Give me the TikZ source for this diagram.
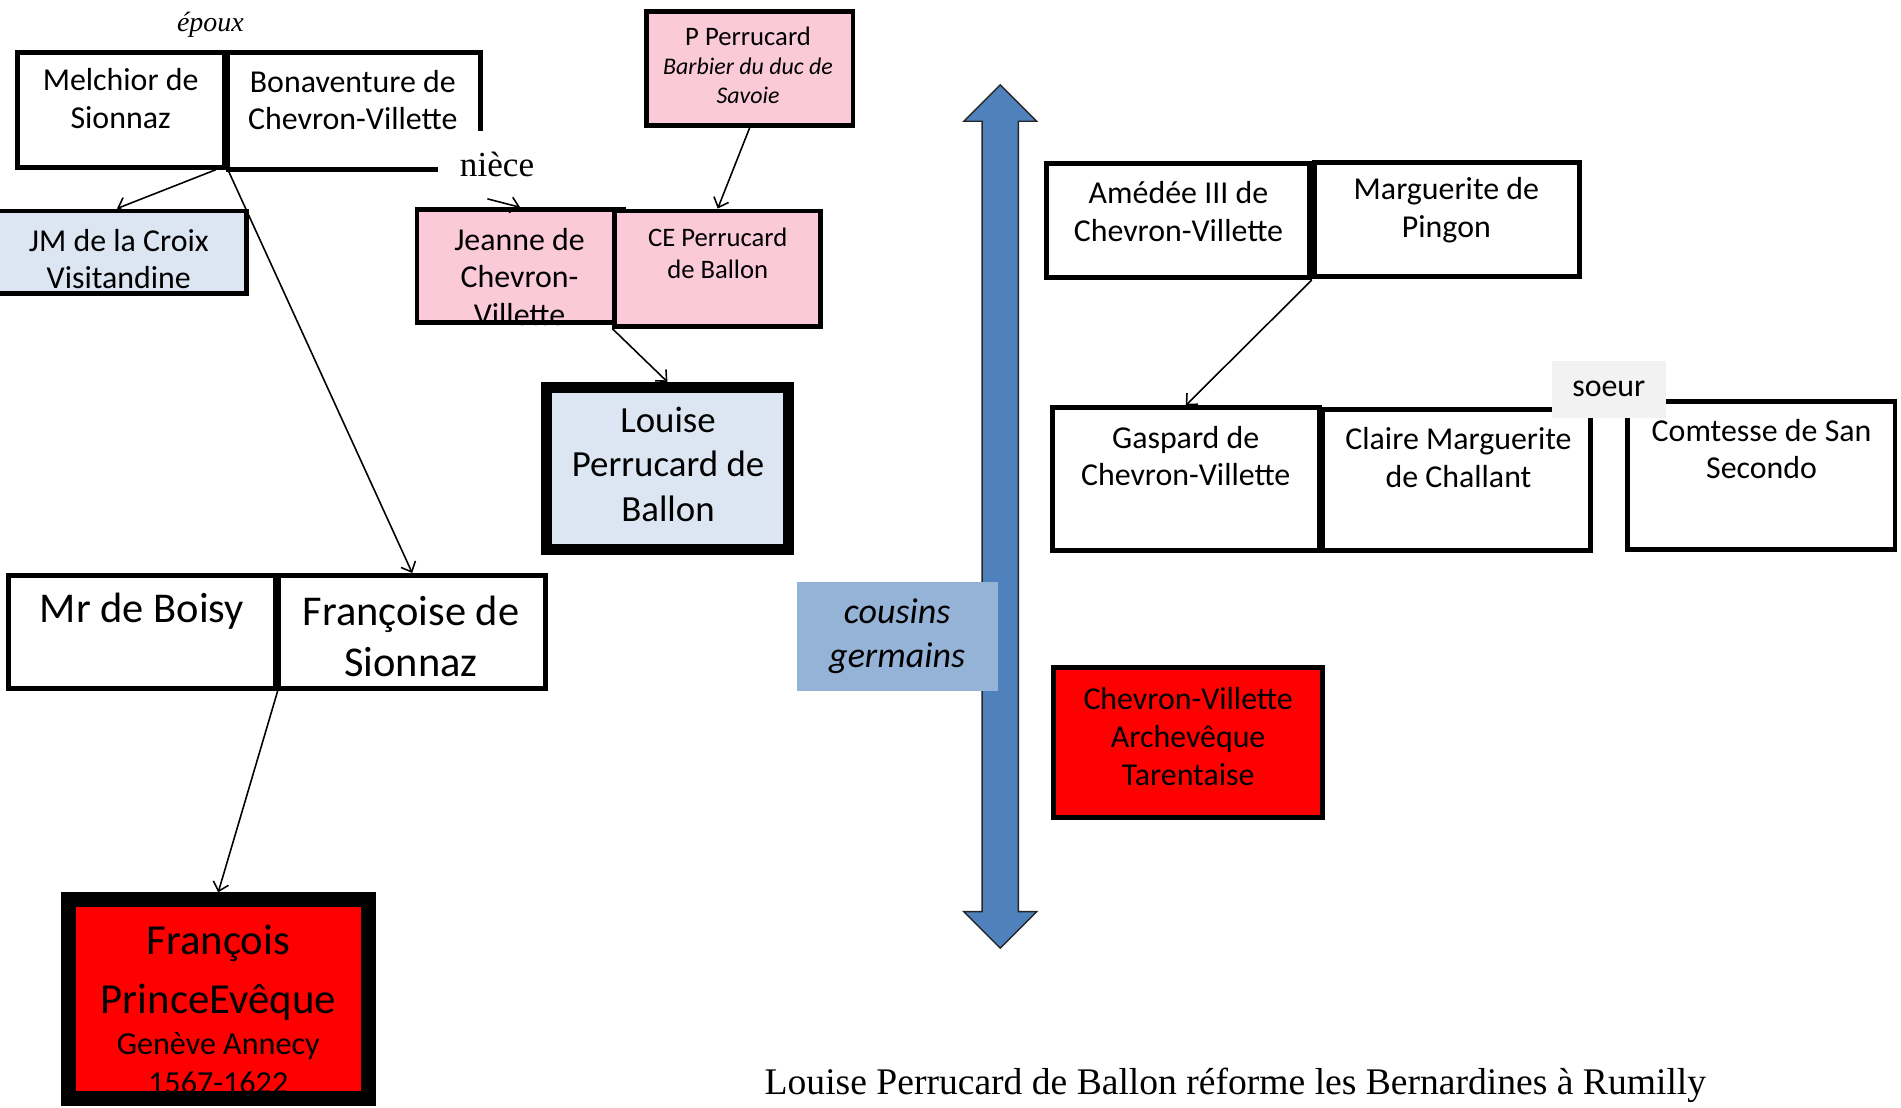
\documentclass[tikz,border=0pt]{standalone}
\usepackage{fontspec}
\setmainfont{Carlito}
\newfontfamily\seriffont{Liberation Serif}
\usetikzlibrary{arrows.meta, positioning}

\definecolor{rose}{RGB}{251,202,216}
\definecolor{ciel}{RGB}{220,230,242}
\definecolor{cousin}{RGB}{149,179,215}
\definecolor{fleche}{RGB}{79,129,189}
\definecolor{gris}{RGB}{242,242,242}

\begin{document}
\begin{tikzpicture}[x=1pt, y=-1pt,
    box/.style={draw, rectangle, line width=4pt, inner sep=0pt, outer sep=2pt},
    txt/.style={font=\fontsize{26.3}{31}\selectfont, align=center, inner sep=0pt},
    small/.style={font=\fontsize{22}{26}\selectfont, align=center, inner sep=0pt},
    big/.style={font=\fontsize{35}{42}\selectfont, align=center, inner sep=0pt},
    lien/.style={-{Straight Barb[length=7pt, width=13pt]}, line width=1.3pt}]

  \useasboundingbox (0,0) rectangle (1568,913.1);

  % famille de Sionnaz
  \node[font=\seriffont\itshape\fontsize{23}{28}\selectfont, anchor=base, inner sep=0pt] (epoux) at (173.5,25.9) {époux};
  \node[box, minimum width=170.5pt, minimum height=95pt] (mel) at (99.75,90.5) {};
  \node[box, minimum width=208pt, minimum height=97pt] (bon) at (292,91.5) {};
  \node[txt] at (99.5,81.5) {Melchior de\\Sionnaz};
  \node[txt] at (291,82.5) {Bonaventure de\\Chevron-Villette};
  \node[box, fill=ciel, minimum width=213pt, minimum height=68pt] (jm) at (96.5,208) {};
  \node[txt] at (98,213.5) {JM de la Croix\\Visitandine};

  \node[box, minimum width=220pt, minimum height=93.4pt] (boi) at (117,521.3) {};
  \node[box, minimum width=220pt, minimum height=93.4pt] (fra) at (340,521.3) {};
  \node[big] at (117,504) {Mr de Boisy};
  \node[big] at (339,525) {Françoise de\\Sionnaz};

  \node[rectangle, fill=red, inner sep=0pt, outer sep=6.25pt, minimum width=247.5pt, minimum height=163.5pt] (fran) at (180,824) {};
  \node[font=\fontsize{35.3}{42}\selectfont, anchor=base, inner sep=0pt] at (180,787.6) {François};
  \node[font=\fontsize{35.3}{42}\selectfont, anchor=base, inner sep=0pt] at (180,835.7) {PrinceEvêque};
  \node[font=\fontsize{26.5}{31}\selectfont, anchor=base, inner sep=0pt] at (180,870) {Genève Annecy};
  \node[font=\fontsize{26.5}{31}\selectfont, anchor=base, inner sep=0pt] at (180,901.7) {1567-1622};
  \draw[line width=12.5pt] ([xshift=6.25pt, yshift=6.25pt]fran.south west) rectangle ([xshift=-6.25pt, yshift=-6.25pt]fran.north east);

  % famille Perrucard
  \node[box, fill=rose, minimum width=170.6pt, minimum height=94pt] (pp) at (618.3,56.5) {};
  \node[small] at (617,30) {P Perrucard};
  \node[font=\itshape\fontsize{19.7}{24}\selectfont, align=center, inner sep=0pt] at (617,67) {Barbier du duc de\\Savoie};

  \node[box, fill=rose, minimum width=170pt, minimum height=93pt] (jea) at (429,219.5) {};
  \node[txt] at (428.5,228.5) {Jeanne de\\Chevron-\\Villette};
  \draw[line width=4pt] ([yshift=2pt]jea.south west) -- ([yshift=2pt]jea.south east);
  \node[box, fill=rose, minimum width=170pt, minimum height=95pt] (ce) at (592,221.5) {};
  \node[small] at (592,209) {CE Perrucard\\de Ballon};

  \node[fill=white, inner sep=0pt, minimum width=98pt, minimum height=56pt, font=\seriffont\fontsize{29}{35}\selectfont] (niece) at (410,135.8) {nièce};

  \node[draw, line width=9pt, fill=ciel, inner sep=0pt, outer sep=4.5pt, minimum width=200pt, minimum height=134pt] (lou) at (550.5,386.5) {};
  \node[font=\fontsize{30.4}{37}\selectfont, align=center, inner sep=0pt] at (551,383) {Louise\\Perrucard de\\Ballon};

  % fleche des generations
  \draw[fill=fleche, draw=black!85, line width=1.2pt, line join=miter]
    (825,70) -- (855,100) -- (840,100) -- (840,752) -- (855,752) -- (825,782)
    -- (795,752) -- (810,752) -- (810,100) -- (795,100) -- cycle;
  \node[fill=cousin, inner sep=0pt, minimum width=166pt, minimum height=90pt, align=center,
        font=\itshape\fontsize{29.7}{36}\selectfont] (cou) at (740,525) {cousins\\germains};

  % famille de Chevron-Villette
  \node[box, minimum width=217pt, minimum height=94pt] (ame) at (971.5,182) {};
  \node[box, minimum width=219pt, minimum height=94pt] (mar) at (1193.5,180.75) {};
  \node[txt] at (972,174.5) {Amédée III de\\Chevron-Villette};
  \node[txt] at (1193,173.5) {Marguerite de\\Pingon};

  \node[box, minimum width=220pt, minimum height=117.6pt] (gas) at (978,395.2) {};
  \node[box, minimum width=221pt, minimum height=116pt] (cla) at (1201.5,396) {};
  \node[box, minimum width=220.4pt, minimum height=121.6pt] (com) at (1452.8,392.2) {};
  \node[txt] at (978,376) {Gaspard de\\Chevron-Villette};
  \node[txt] at (1203,377.5) {Claire Marguerite\\de Challant};
  \node[txt] at (1453,370.5) {Comtesse de San\\Secondo};
  \node[txt, fill=gris, minimum width=94pt, minimum height=47pt] (soeur) at (1327,321) {\raisebox{-3pt}{soeur}};

  \node[box, fill=red, minimum width=222pt, minimum height=123.2pt] (arc) at (980,612.4) {};
  \node[txt] at (980,607.5) {Chevron-Villette\\Archevêque\\Tarentaise};

  \node[font=\seriffont\fontsize{31}{37}\selectfont, anchor=base, inner sep=0pt] (titre) at (1019,903)
    {Louise Perrucard de Ballon réforme les Bernardines à Rumilly};

  % liens de parente
  \draw[lien] ([xshift=-9pt]mel.south east) -- (jm.north);
  \draw[lien] ([xshift=1pt]mel.south east) -- (fra.north);
  \draw[lien] (boi.south east) -- (fran.north);
  \draw[lien] (pp.south) -- (ce.north);
  \draw[lien] ([xshift=-8pt]niece.south) -- (jea.north);
  \draw[lien] (ce.south west) -- (lou.north);
  \draw[lien] (ame.south east) -- (gas.north);
\end{tikzpicture}
\end{document}
